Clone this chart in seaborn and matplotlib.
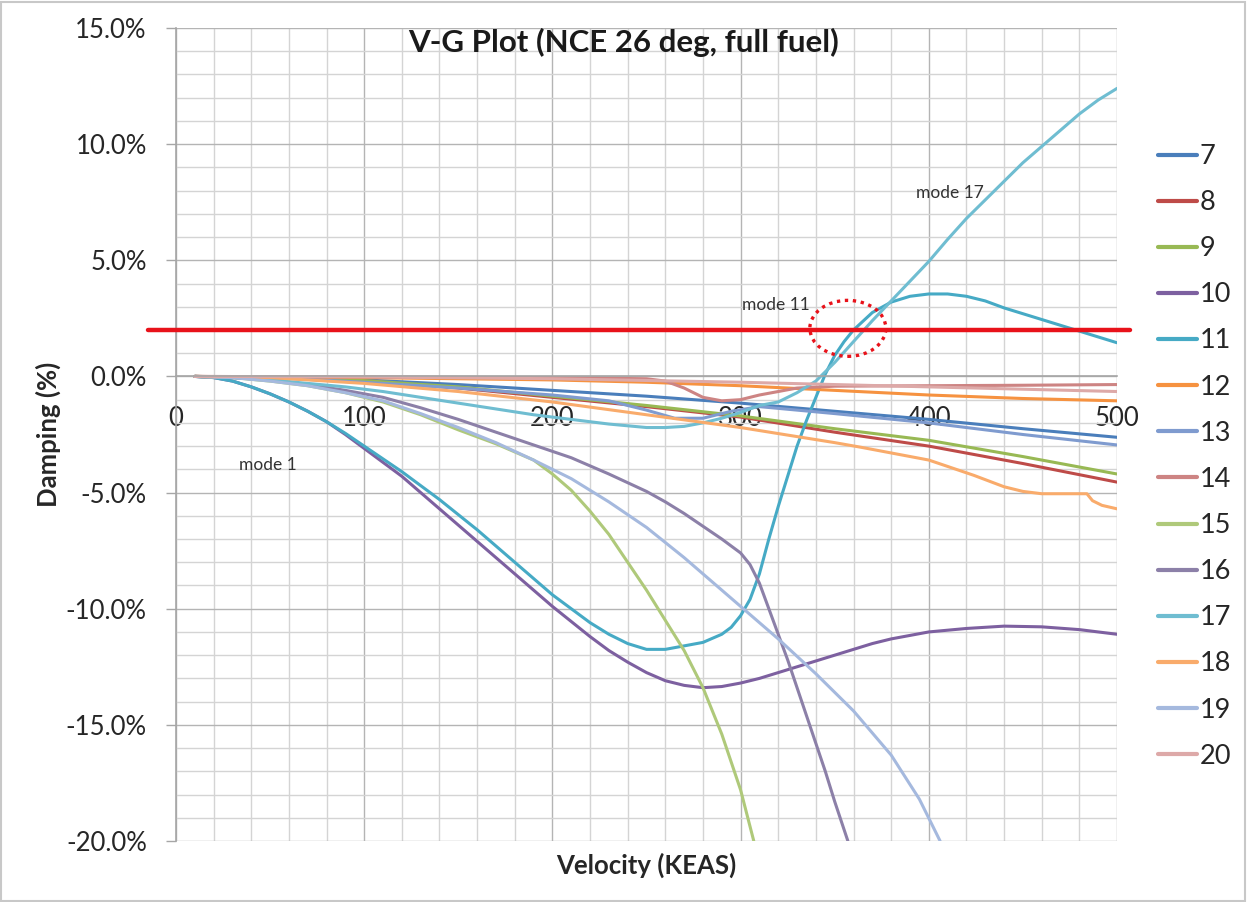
import numpy as np
import pandas as pd
import seaborn as sns
import matplotlib
matplotlib.use("Agg")
import matplotlib.pyplot as plt
from matplotlib.ticker import MultipleLocator, PercentFormatter
from matplotlib.patches import Ellipse, Rectangle

# ---------------- data: damping (%) vs. velocity (KEAS) per mode ----------------
v7 = [10, 50, 100, 150, 200, 250, 300, 350, 400, 450, 500]
g7 = [0, -0.03, -0.15, -0.35, -0.6, -0.85, -1.15, -1.5, -1.85, -2.25, -2.62]

v8 = [10, 50, 100, 150, 200, 250, 300, 350, 400, 450, 500]
g8 = [0, -0.05, -0.2, -0.5, -0.9, -1.3, -1.75, -2.4, -3.0, -3.75, -4.55]

v9 = [10, 50, 100, 150, 200, 250, 300, 350, 400, 450, 500]
g9 = [0, -0.04, -0.18, -0.45, -0.85, -1.25, -1.7, -2.25, -2.75, -3.45, -4.2]

v10 = [10, 20, 30, 40, 50, 60, 70, 80, 90, 100, 110, 120, 130, 140, 150, 160, 170,
       180, 190, 200, 210, 220, 230, 240, 250, 260, 270, 280, 290, 300, 310, 320,
       330, 340, 350, 360, 370, 380, 390, 400, 420, 440, 460, 480, 500]
g10 = [0, -0.05, -0.2, -0.45, -0.75, -1.1, -1.5, -1.95, -2.5, -3.1, -3.7, -4.3,
       -5.0, -5.7, -6.4, -7.1, -7.8, -8.5, -9.2, -9.9, -10.55, -11.2, -11.8, -12.3,
       -12.75, -13.1, -13.3, -13.4, -13.35, -13.2, -13.0, -12.75, -12.5, -12.25,
       -12.0, -11.75, -11.5, -11.3, -11.15, -11.0, -10.85, -10.75, -10.78, -10.9, -11.1]

v11 = [10, 20, 30, 40, 50, 60, 70, 80, 90, 100, 110, 120, 130, 140, 150, 160, 170,
       180, 190, 200, 210, 220, 230, 240, 250, 260, 270, 280, 290, 295, 300, 305,
       310, 315, 320, 325, 330, 335, 340, 345, 350, 355, 360, 370, 380, 390, 400,
       410, 420, 430, 440, 450, 460, 470, 480, 490, 500]
g11 = [0, -0.05, -0.2, -0.45, -0.75, -1.1, -1.5, -1.95, -2.45, -3.0, -3.55, -4.1,
       -4.7, -5.3, -5.95, -6.6, -7.3, -8.0, -8.7, -9.4, -10.0, -10.6, -11.1, -11.5,
       -11.75, -11.75, -11.6, -11.45, -11.1, -10.8, -10.3, -9.6, -8.5, -7.0, -5.6,
       -4.3, -3.0, -1.9, -0.9, 0.1, 0.9, 1.5, 2.0, 2.75, 3.2, 3.45, 3.55, 3.55, 3.45,
       3.25, 2.95, 2.7, 2.45, 2.2, 1.95, 1.7, 1.45]

v12 = [10, 100, 200, 250, 300, 350, 400, 450, 500]
g12 = [0, -0.05, -0.15, -0.25, -0.4, -0.6, -0.8, -0.95, -1.05]

v13 = [10, 50, 100, 150, 200, 230, 250, 265, 280, 295, 310, 350, 400, 450, 500]
g13 = [0, -0.05, -0.25, -0.5, -0.8, -1.05, -1.45, -1.8, -1.8, -1.5, -1.3, -1.6,
       -2.0, -2.5, -2.95]

v14 = [10, 100, 200, 250, 260, 270, 280, 290, 300, 310, 320, 330, 350, 400, 450, 500]
g14 = [0, -0.02, -0.05, -0.1, -0.2, -0.5, -0.9, -1.05, -1.0, -0.8, -0.65, -0.5,
       -0.42, -0.4, -0.38, -0.35]

v15 = [10, 30, 50, 70, 90, 110, 130, 150, 170, 180, 190, 200, 210, 220, 230, 240,
       250, 260, 270, 280, 290, 300, 307]
g15 = [0, -0.05, -0.2, -0.4, -0.7, -1.1, -1.65, -2.3, -2.9, -3.25, -3.6, -4.2,
       -4.9, -5.8, -6.8, -8.0, -9.2, -10.5, -11.8, -13.4, -15.4, -17.8, -20.0]

v16 = [10, 30, 50, 70, 90, 110, 130, 150, 170, 190, 210, 230, 250, 260, 270, 280,
       290, 300, 305, 310, 315, 320, 325, 330, 335, 340, 345, 350, 357]
g16 = [0, -0.05, -0.15, -0.35, -0.6, -0.9, -1.35, -1.85, -2.4, -2.95, -3.5, -4.2,
       -4.95, -5.4, -5.9, -6.45, -7.0, -7.6, -8.1, -8.9, -10.0, -11.1, -12.2, -13.4,
       -14.6, -15.8, -17.0, -18.3, -20.0]

v17 = [10, 30, 50, 70, 90, 110, 130, 150, 170, 190, 210, 230, 250, 260, 270, 280,
       290, 300, 310, 320, 330, 340, 350, 360, 370, 380, 390, 400, 410, 420, 430,
       440, 450, 460, 470, 480, 490, 500]
g17 = [0, -0.05, -0.15, -0.3, -0.45, -0.65, -0.9, -1.15, -1.4, -1.65, -1.85, -2.05,
       -2.2, -2.2, -2.15, -2.0, -1.8, -1.55, -1.25, -1.1, -0.7, -0.2, 0.6, 1.5, 2.4,
       3.25, 4.1, 4.95, 5.9, 6.8, 7.6, 8.4, 9.2, 9.9, 10.6, 11.3, 11.9, 12.4]

v18 = [10, 50, 100, 150, 200, 250, 300, 350, 364, 400, 424, 440, 450, 460, 484,
       487, 492, 500]
g18 = [0, -0.05, -0.3, -0.65, -1.1, -1.65, -2.2, -2.85, -3.05, -3.6, -4.26, -4.75,
       -4.95, -5.05, -5.05, -5.35, -5.55, -5.7]

v19 = [10, 30, 50, 70, 90, 110, 130, 150, 170, 190, 210, 230, 250, 270, 290, 300,
       320, 340, 360, 380, 395, 406]
g19 = [0, -0.05, -0.2, -0.4, -0.7, -1.05, -1.6, -2.2, -2.85, -3.6, -4.4, -5.4,
       -6.5, -7.8, -9.2, -9.9, -11.3, -12.8, -14.4, -16.3, -18.2, -20.0]

v20 = [10, 100, 200, 300, 400, 500]
g20 = [0, -0.02, -0.1, -0.25, -0.45, -0.65]

mode_names = ["7", "8", "9", "10", "11", "12", "13", "14", "15", "16", "17", "18", "19", "20"]
mode_colors = ["#4A7EBB", "#BE4B48", "#98B954", "#7D60A0", "#46AAC5", "#F69240",
               "#7F9BCF", "#CD8483", "#AFC97A", "#8C80A8", "#6FBDD1", "#F9AB6B",
               "#A5B9DE", "#DDA9A8"]

flutter_limit = 2.0          # required damping margin (%)
circle_center = (357, 2.07)  # highlighted crossing region
circle_size = (40.4, 2.41)

mode_notes = ["mode 1", "mode 11", "mode 17"]
note_v = [49, 319, 411]
note_g = [-3.8, 3.06, 7.9]

# ---------------- long-form table for seaborn ----------------
velocities = [v7, v8, v9, v10, v11, v12, v13, v14, v15, v16, v17, v18, v19, v20]
dampings = [g7, g8, g9, g10, g11, g12, g13, g14, g15, g16, g17, g18, g19, g20]
frames = []
for name, vv, gg in zip(mode_names, velocities, dampings):
    frames.append(pd.DataFrame({"Velocity": vv, "Damping": gg, "Mode": name}))
df = pd.concat(frames, ignore_index=True)

# ---------------- styling ----------------
sns.set_theme(style="white")
plt.rcParams["font.family"] = ["Lato", "DejaVu Sans"]
plt.rcParams["axes.unicode_minus"] = False

W, H = 1247, 902
fig = plt.figure(figsize=(W / 100, H / 100), dpi=100)
fig.patch.set_facecolor("white")
ax = fig.add_axes([176 / W, 1 - 841 / H, (1117 - 176) / W, (841 - 28) / H])

sns.lineplot(data=df, x="Velocity", y="Damping", hue="Mode", hue_order=mode_names,
             palette=dict(zip(mode_names, mode_colors)), sort=False, estimator=None,
             linewidth=2.2, ax=ax, legend=True)

ax.set_xlim(0, 500)
ax.set_ylim(-20, 15)

ax.xaxis.set_major_locator(MultipleLocator(100))
ax.xaxis.set_minor_locator(MultipleLocator(20))
ax.yaxis.set_major_locator(MultipleLocator(5))
ax.yaxis.set_minor_locator(MultipleLocator(1))
ax.yaxis.set_major_formatter(PercentFormatter(xmax=100, decimals=1))

ax.grid(True, which="major", color="#B4B4B4", linewidth=1.0)
ax.grid(True, which="minor", color="#D4D4D4", linewidth=1.0)
ax.set_axisbelow(True)

for side in ("top", "right"):
    ax.spines[side].set_visible(False)
ax.spines["left"].set_color("#A6A6A6")
ax.spines["left"].set_linewidth(1.2)
ax.spines["bottom"].set_position(("data", 0))
ax.spines["bottom"].set_color("#A6A6A6")
ax.spines["bottom"].set_linewidth(1.2)

ax.tick_params(axis="x", which="both", length=0, pad=21, labelsize=18.5, labelcolor="#262626")
ax.tick_params(axis="y", which="major", length=7, width=1, color="#A6A6A6", pad=14,
               labelsize=18.5, labelcolor="#262626", left=True)
ax.tick_params(axis="y", which="minor", length=0)

ax.set_xlabel("Velocity (KEAS)", fontsize=18.5, fontweight="bold", color="#262626")
ax.xaxis.set_label_coords(0.5, -0.014)
ax.set_ylabel("Damping (%)", fontsize=18.5, fontweight="bold", color="#262626")
ax.yaxis.set_label_coords(-0.122, 0.5)

# required damping line and highlighted crossing
ax.axhline(flutter_limit, xmin=-0.03, xmax=1.014, clip_on=False, color="#E8121A",
           linewidth=3.2, zorder=4)
ax.add_patch(Ellipse(circle_center, circle_size[0], circle_size[1], fill=False,
                     edgecolor="#E8121A", linewidth=2.4, linestyle=(0, (1, 1.4)), zorder=5))

for txt, xv, yv in zip(mode_notes, note_v, note_g):
    ax.text(xv, yv, txt, fontsize=12.5, color="#333333", ha="center", va="center")

fig.text(0.5, 1 - 42 / H, "V-G Plot (NCE 26 deg, full fuel)", fontsize=22.5,
         fontweight="bold", color="#1a1a1a", ha="center", va="center")

handles, labels = ax.get_legend_handles_labels()
ax.get_legend().remove()
fig.legend(handles, labels, loc="upper left", bbox_to_anchor=(1158 / W, 1 - 144 / H),
           frameon=False, fontsize=19.5, handlelength=1.45, handletextpad=0.08,
           labelspacing=0.78, borderpad=0, borderaxespad=0, labelcolor="#262626")
for line in fig.legends[0].get_lines():
    line.set_linewidth(3.0)

# chart-area border
fig.add_artist(Rectangle((0.001, 0.001), 0.997, 0.997, transform=fig.transFigure,
                         fill=False, edgecolor="#C8C8C8", linewidth=1.5))

fig.savefig("out.png", dpi=100, facecolor="white")
